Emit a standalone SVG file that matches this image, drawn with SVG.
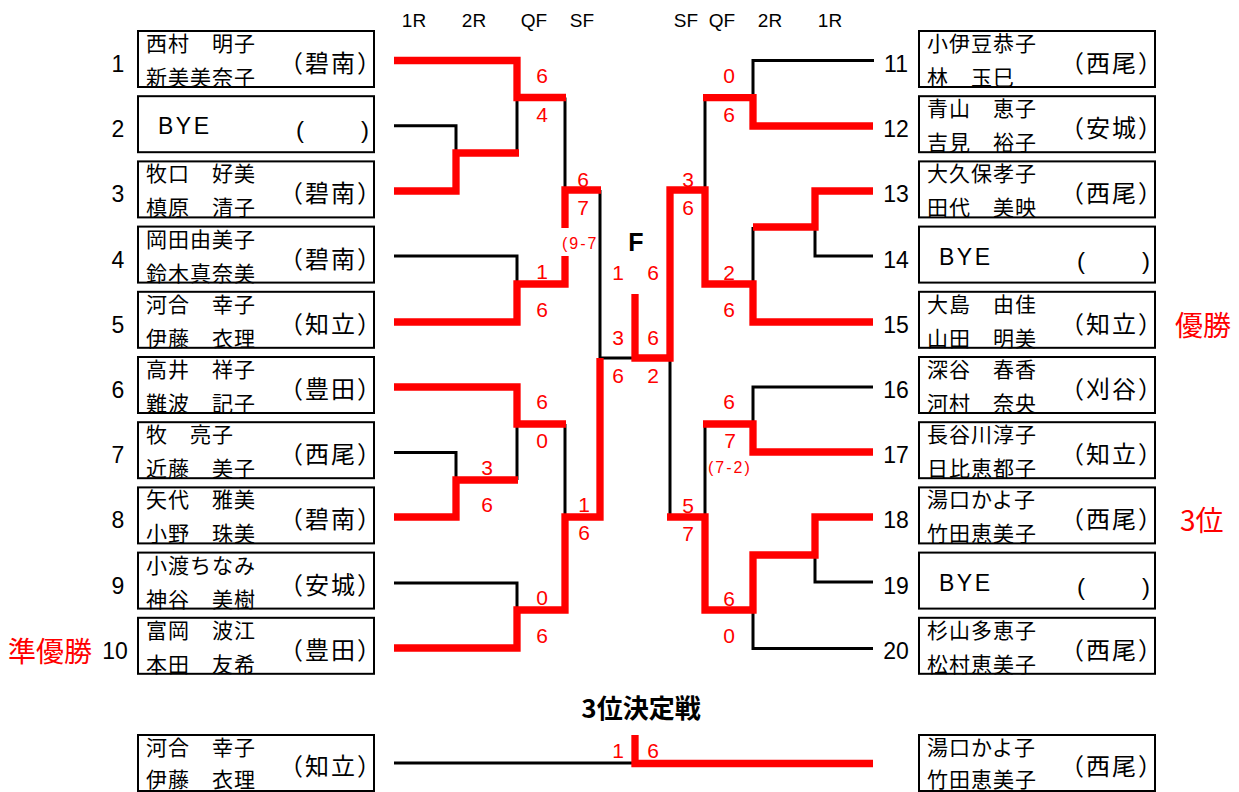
<svg xmlns="http://www.w3.org/2000/svg" width="1239" height="792" viewBox="0 0 1239 792">
<style>
.bx{fill:#fff;stroke:#000;stroke-width:2}
.nm{font-family:"Noto Sans CJK JP","Noto Sans CJK SC",sans-serif;font-size:21px;letter-spacing:1px;fill:#000}
.pf{font-family:"Noto Sans CJK JP","Noto Sans CJK SC",sans-serif;font-size:24px;letter-spacing:2px;fill:#000}
.num{font-family:"Liberation Sans",Arial,sans-serif;font-size:23px;fill:#000;text-anchor:middle}
.bye{font-family:"Liberation Sans",Arial,sans-serif;font-size:23px;letter-spacing:2.5px;fill:#000}
.byp{font-family:"Liberation Sans",Arial,sans-serif;font-size:24px;fill:#000}
.hd{font-family:"Liberation Sans",Arial,sans-serif;font-size:19px;fill:#000;text-anchor:middle}
.sc{font-family:"Liberation Sans",Arial,sans-serif;font-size:21px;fill:#f00;text-anchor:middle}
.tb{font-family:"Liberation Sans",Arial,sans-serif;font-size:16px;letter-spacing:2px;fill:#f00}
.lab{font-family:"Noto Sans CJK JP","Noto Sans CJK SC",sans-serif;font-size:28px;fill:#f00}
.bk{fill:none;stroke:#000;stroke-width:3}
.rd{fill:none;stroke:#f00;stroke-width:7.3;stroke-linejoin:miter}
</style>

<g id="headers">
<text class="hd" x="414" y="27">1R</text>
<text class="hd" x="474" y="27">2R</text>
<text class="hd" x="534" y="27">QF</text>
<text class="hd" x="582" y="27">SF</text>
<text class="hd" x="686" y="27">SF</text>
<text class="hd" x="722" y="27">QF</text>
<text class="hd" x="770" y="27">2R</text>
<text class="hd" x="830" y="27">1R</text>
</g>

<g id="p1"><rect class="bx" x="138" y="31" width="236" height="56"/><text class="num" x="118" y="72">1</text><text class="nm" x="146" y="51">西村　明子</text><text class="nm" x="146" y="85">新美美奈子</text><text class="pf" x="279" y="72">（碧南）</text></g>
<g id="p2"><rect class="bx" x="138" y="96.2" width="236" height="56"/><text class="num" x="118" y="137.2">2</text><text class="bye" x="158" y="134.2">BYE</text><text class="byp" y="138.2"><tspan x="296">(</tspan><tspan x="361">)</tspan></text></g>
<g id="p3"><rect class="bx" x="138" y="161.4" width="236" height="56"/><text class="num" x="118" y="202.4">3</text><text class="nm" x="146" y="181.4">牧口　好美</text><text class="nm" x="146" y="215.4">槙原　清子</text><text class="pf" x="279" y="202.4">（碧南）</text></g>
<g id="p4"><rect class="bx" x="138" y="226.6" width="236" height="56"/><text class="num" x="118" y="267.6">4</text><text class="nm" x="146" y="246.6">岡田由美子</text><text class="nm" x="146" y="280.6">鈴木真奈美</text><text class="pf" x="279" y="267.6">（碧南）</text></g>
<g id="p5"><rect class="bx" x="138" y="291.8" width="236" height="56"/><text class="num" x="118" y="332.8">5</text><text class="nm" x="146" y="311.8">河合　幸子</text><text class="nm" x="146" y="345.8">伊藤　衣理</text><text class="pf" x="279" y="332.8">（知立）</text></g>
<g id="p6"><rect class="bx" x="138" y="357" width="236" height="56"/><text class="num" x="118" y="398">6</text><text class="nm" x="146" y="377">高井　祥子</text><text class="nm" x="146" y="411">難波　記子</text><text class="pf" x="279" y="398">（豊田）</text></g>
<g id="p7"><rect class="bx" x="138" y="422.2" width="236" height="56"/><text class="num" x="118" y="463.2">7</text><text class="nm" x="146" y="442.2">牧　亮子</text><text class="nm" x="146" y="476.2">近藤　美子</text><text class="pf" x="279" y="463.2">（西尾）</text></g>
<g id="p8"><rect class="bx" x="138" y="487.4" width="236" height="56"/><text class="num" x="118" y="528.4">8</text><text class="nm" x="146" y="507.4">矢代　雅美</text><text class="nm" x="146" y="541.4">小野　珠美</text><text class="pf" x="279" y="528.4">（碧南）</text></g>
<g id="p9"><rect class="bx" x="138" y="552.6" width="236" height="56"/><text class="num" x="118" y="593.6">9</text><text class="nm" x="146" y="572.6">小渡ちなみ</text><text class="nm" x="146" y="606.6">神谷　美樹</text><text class="pf" x="279" y="593.6">（安城）</text></g>
<g id="p10"><rect class="bx" x="138" y="617.8" width="236" height="56"/><text class="num" x="115" y="658.8">10</text><text class="nm" x="146" y="637.8">富岡　波江</text><text class="nm" x="146" y="671.8">本田　友希</text><text class="pf" x="279" y="658.8">（豊田）</text></g>

<g id="p11"><rect class="bx" x="919" y="31" width="236" height="56"/><text class="num" x="896" y="72">11</text><text class="nm" x="927" y="51">小伊豆恭子</text><text class="nm" x="927" y="85">林　玉巳</text><text class="pf" x="1060" y="72">（西尾）</text></g>
<g id="p12"><rect class="bx" x="919" y="96.2" width="236" height="56"/><text class="num" x="896" y="137.2">12</text><text class="nm" x="927" y="116.2">青山　恵子</text><text class="nm" x="927" y="150.2">吉見　裕子</text><text class="pf" x="1060" y="137.2">（安城）</text></g>
<g id="p13"><rect class="bx" x="919" y="161.4" width="236" height="56"/><text class="num" x="896" y="202.4">13</text><text class="nm" x="927" y="181.4">大久保孝子</text><text class="nm" x="927" y="215.4">田代　美映</text><text class="pf" x="1060" y="202.4">（西尾）</text></g>
<g id="p14"><rect class="bx" x="919" y="226.6" width="236" height="56"/><text class="num" x="896" y="267.6">14</text><text class="bye" x="939" y="264.6">BYE</text><text class="byp" y="268.6"><tspan x="1077">(</tspan><tspan x="1142">)</tspan></text></g>
<g id="p15"><rect class="bx" x="919" y="291.8" width="236" height="56"/><text class="num" x="896" y="332.8">15</text><text class="nm" x="927" y="311.8">大島　由佳</text><text class="nm" x="927" y="345.8">山田　明美</text><text class="pf" x="1060" y="332.8">（知立）</text></g>
<g id="p16"><rect class="bx" x="919" y="357" width="236" height="56"/><text class="num" x="896" y="398">16</text><text class="nm" x="927" y="377">深谷　春香</text><text class="nm" x="927" y="411">河村　奈央</text><text class="pf" x="1060" y="398">（刈谷）</text></g>
<g id="p17"><rect class="bx" x="919" y="422.2" width="236" height="56"/><text class="num" x="896" y="463.2">17</text><text class="nm" x="927" y="442.2">長谷川淳子</text><text class="nm" x="927" y="476.2">日比恵都子</text><text class="pf" x="1060" y="463.2">（知立）</text></g>
<g id="p18"><rect class="bx" x="919" y="487.4" width="236" height="56"/><text class="num" x="896" y="528.4">18</text><text class="nm" x="927" y="507.4">湯口かよ子</text><text class="nm" x="927" y="541.4">竹田恵美子</text><text class="pf" x="1060" y="528.4">（西尾）</text></g>
<g id="p19"><rect class="bx" x="919" y="552.6" width="236" height="56"/><text class="num" x="896" y="593.6">19</text><text class="bye" x="939" y="590.6">BYE</text><text class="byp" y="594.6"><tspan x="1077">(</tspan><tspan x="1142">)</tspan></text></g>
<g id="p20"><rect class="bx" x="919" y="617.8" width="236" height="56"/><text class="num" x="896" y="658.8">20</text><text class="nm" x="927" y="637.8">杉山多恵子</text><text class="nm" x="927" y="671.8">松村恵美子</text><text class="pf" x="1060" y="658.8">（西尾）</text></g>

<g id="third-left"><rect class="bx" x="138" y="735" width="236" height="56"/><text class="nm" x="146" y="755">河合　幸子</text><text class="nm" x="146" y="787">伊藤　衣理</text><text class="pf" x="279" y="775">（知立）</text></g>
<g id="third-right"><rect class="bx" x="919" y="735" width="236" height="56"/><text class="nm" x="927" y="755">湯口かよ子</text><text class="nm" x="927" y="787">竹田恵美子</text><text class="pf" x="1060" y="775">（西尾）</text></g>

<g id="connectors">
<path class="bk" d="M394,125.7 H456 V153"/>
<path class="bk" d="M517,97.5 V153"/>
<path class="bk" d="M565,97.5 V190"/>
<path class="bk" d="M394,256 H517 V284"/>
<path class="bk" d="M600,190 V358 H635"/>
<path class="bk" d="M394,452.5 H456 V480"/>
<path class="bk" d="M517,424 V480"/>
<path class="bk" d="M565,424 V517"/>
<path class="bk" d="M394,583 H517 V610"/>
<path class="bk" d="M874,60.5 H753 V97.7"/>
<path class="bk" d="M873,256 H815 V227"/>
<path class="bk" d="M753,227 V284"/>
<path class="bk" d="M705,97.7 V190"/>
<path class="bk" d="M873,387 H753 V424"/>
<path class="bk" d="M705,424 V517"/>
<path class="bk" d="M873,582 H815 V555"/>
<path class="bk" d="M873,648.5 H753 V610"/>
<path class="bk" d="M670,358 V517"/>
<path class="bk" d="M394,763 H635"/>

<path class="rd" d="M394,60.5 H517 V97.5 H566"/>
<path class="rd" d="M394,191 H456 V153 H519"/>
<path class="rd" d="M394,322 H517 V284 H565 V256"/>
<path class="rd" d="M565,228 V190 H601"/>
<path class="rd" d="M394,387 H517 V424 H566"/>
<path class="rd" d="M394,517 H456 V480 H518"/>
<path class="rd" d="M394,648 H517 V610 H565 V517 H600 V358"/>
<path class="rd" d="M873,126 H753 V97.7 H703"/>
<path class="rd" d="M873,191 H815 V227 H753"/>
<path class="rd" d="M873,322 H753 V284 H705 V190 H670 V358 H635 V294"/>
<path class="rd" d="M873,452 H753 V424 H703"/>
<path class="rd" d="M873,517 H815 V555 H753 V610 H705 V517 H667"/>
<path class="rd" d="M635,735 V763.5 H873"/>
</g>

<g id="scores">
<text class="sc" x="542" y="83">6</text><text class="sc" x="542" y="122">4</text>
<text class="sc" x="583" y="187">6</text><text class="sc" x="583" y="215">7</text>
<text class="tb" x="562" y="249">(9-7</text>
<text class="sc" x="542" y="279">1</text><text class="sc" x="542" y="317">6</text>
<text class="sc" x="542" y="409">6</text><text class="sc" x="542" y="448">0</text>
<text class="sc" x="487" y="475">3</text><text class="sc" x="487" y="512">6</text>
<text class="sc" x="584" y="512">1</text><text class="sc" x="584" y="540">6</text>
<text class="sc" x="542" y="605">0</text><text class="sc" x="542" y="643">6</text>
<text x="636" y="251" style="font-family:'Liberation Sans',Arial,sans-serif;font-size:25px;font-weight:bold;text-anchor:middle;fill:#000">F</text>
<text class="sc" x="618" y="280">1</text><text class="sc" x="653" y="280">6</text>
<text class="sc" x="618" y="345">3</text><text class="sc" x="653" y="345">6</text>
<text class="sc" x="618" y="383">6</text><text class="sc" x="653" y="383">2</text>
<text class="sc" x="729" y="83">0</text><text class="sc" x="729" y="122">6</text>
<text class="sc" x="688" y="187">3</text><text class="sc" x="688" y="215">6</text>
<text class="sc" x="729" y="280">2</text><text class="sc" x="729" y="317">6</text>
<text class="sc" x="729" y="409">6</text><text class="sc" x="730" y="448">7</text>
<text class="tb" x="708" y="473">(7-2)</text>
<text class="sc" x="688" y="513">5</text><text class="sc" x="688" y="541">7</text>
<text class="sc" x="729" y="606">6</text><text class="sc" x="729" y="643">0</text>
<text class="sc" x="618" y="758">1</text><text class="sc" x="653" y="758">6</text>
</g>

<g id="labels">
<text class="lab" x="8" y="662">準優勝</text>
<text class="lab" x="1175" y="336">優勝</text>
<text class="lab" x="1180" y="531">3位</text>
<text x="641" y="718" style="font-family:'Noto Sans CJK JP','Noto Sans CJK SC',sans-serif;font-size:26px;font-weight:bold;text-anchor:middle;fill:#000">3位決定戦</text>
</g>
</svg>
